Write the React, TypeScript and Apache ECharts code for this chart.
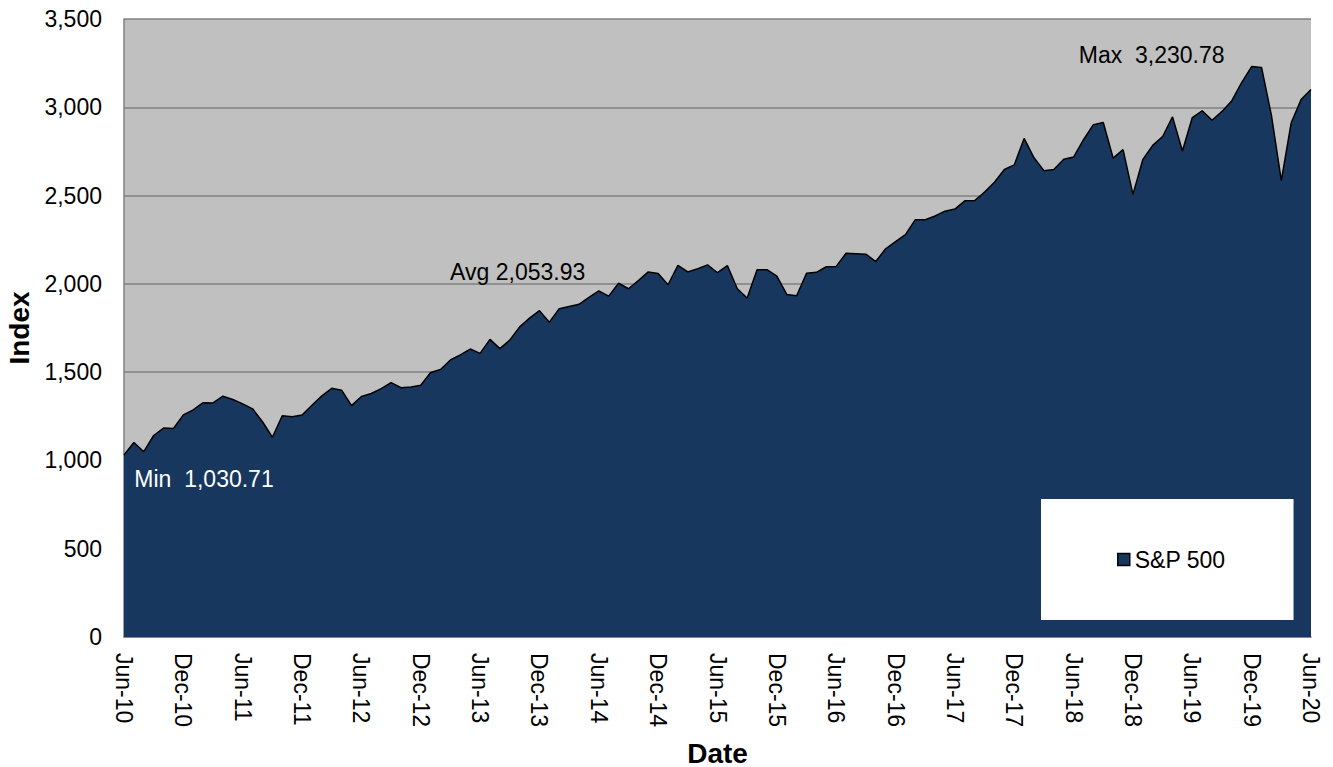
import React, { useEffect, useRef } from 'react';
import * as echarts from 'echarts';

// S&P 500 month-end closes, Jun-10 .. Jun-20
const values2010 = [1030.71, 1101.6, 1049.33, 1141.2, 1183.26, 1180.55, 1257.64];
const values2011 = [1286.12, 1327.22, 1325.83, 1363.61, 1345.2, 1320.64, 1292.28, 1218.89, 1131.42, 1253.3, 1246.96, 1257.6];
const values2012 = [1312.41, 1365.68, 1408.47, 1397.91, 1310.33, 1362.16, 1379.32, 1406.58, 1440.67, 1412.16, 1416.18, 1426.19];
const values2013 = [1498.11, 1514.68, 1569.19, 1597.57, 1630.74, 1606.28, 1685.73, 1632.97, 1681.55, 1756.54, 1805.81, 1848.36];
const values2014 = [1782.59, 1859.45, 1872.34, 1883.95, 1923.57, 1960.23, 1930.67, 2003.37, 1972.29, 2018.05, 2067.56, 2058.9];
const values2015 = [1994.99, 2104.5, 2067.89, 2085.51, 2107.39, 2063.11, 2103.84, 1972.18, 1920.03, 2079.36, 2080.41, 2043.94];
const values2016 = [1940.24, 1932.23, 2059.74, 2065.3, 2096.95, 2098.86, 2173.6, 2170.95, 2168.27, 2126.15, 2198.81, 2238.83];
const values2017 = [2278.87, 2363.64, 2362.72, 2384.2, 2411.8, 2423.41, 2470.3, 2471.65, 2519.36, 2575.26, 2647.58, 2673.61];
const values2018 = [2823.81, 2713.83, 2640.87, 2648.05, 2705.27, 2718.37, 2816.29, 2901.52, 2913.98, 2711.74, 2760.17, 2506.85];
const values2019 = [2704.1, 2784.49, 2834.4, 2945.83, 2752.06, 2941.76, 2980.38, 2926.46, 2976.74, 3037.56, 3140.98, 3230.78];
const values2020 = [3225.52, 2954.22, 2584.59, 2912.43, 3044.31, 3100.29];

const spValues = [
  ...values2010, ...values2011, ...values2012, ...values2013, ...values2014, ...values2015,
  ...values2016, ...values2017, ...values2018, ...values2019, ...values2020,
];

const monthNames = ['Jan', 'Feb', 'Mar', 'Apr', 'May', 'Jun', 'Jul', 'Aug', 'Sep', 'Oct', 'Nov', 'Dec'];
const dates: string[] = [];
for (let i = 0; i < spValues.length; i++) {
  const m = (5 + i) % 12;
  const y = 10 + Math.floor((5 + i) / 12);
  dates.push(`${monthNames[m]}-${y}`);
}

const yTicks = [0, 500, 1000, 1500, 2000, 2500, 3000, 3500];

const minValue = 1030.71;
const avgValue = 2053.93;
const maxValue = 3230.78;

const FONT = "'Liberation Sans', Arial, sans-serif";
const FS = 23;

const App: React.FC = () => {
  const chartRef = useRef<HTMLDivElement>(null);

  useEffect(() => {
    if (!chartRef.current) return;
    const chart = echarts.init(chartRef.current, undefined, { renderer: 'svg' });

    const option = {
      animation: false,
      textStyle: { fontFamily: FONT },
      grid: {
        left: 124,
        top: 19,
        right: 22,
        bottom: 130,
        containLabel: false,
        outerBoundsMode: 'none',
        show: true,
        backgroundColor: '#c0c0c0',
        borderWidth: 0,
      },
      legend: {
        data: ['S&P 500'],
        left: 1041,
        top: 499,
        padding: [49, 68, 49, 76],
        backgroundColor: '#ffffff',
        itemWidth: 12,
        itemHeight: 12,
        icon: 'rect',
        itemStyle: { borderColor: '#000000', borderWidth: 1.5 },
        textStyle: { fontSize: FS, color: '#000000', fontFamily: FONT },
      },
      xAxis: {
        type: 'category',
        data: dates,
        boundaryGap: false,
        name: 'Date',
        nameLocation: 'middle',
        nameGap: 102,
        nameTextStyle: { fontSize: 28, fontWeight: 'bold', color: '#000000', fontFamily: FONT },
        axisLine: { lineStyle: { color: '#808080', width: 1.5 } },
        axisTick: { show: false },
        axisLabel: {
          interval: 5,
          rotate: -90,
          margin: 16,
          fontSize: FS,
          color: '#000000',
          fontFamily: FONT,
        },
        splitLine: { show: false },
      },
      yAxis: {
        type: 'value',
        min: yTicks[0],
        max: yTicks[yTicks.length - 1],
        interval: 500,
        name: 'Index',
        nameLocation: 'middle',
        nameGap: 91,
        nameTextStyle: { fontSize: 28, fontWeight: 'bold', color: '#000000', fontFamily: FONT },
        axisLine: { show: true, lineStyle: { color: '#808080', width: 1.5 } },
        axisTick: { show: false },
        axisLabel: {
          margin: 22,
          fontSize: FS,
          color: '#000000',
          fontFamily: FONT,
          formatter: (v: number) => v.toLocaleString('en-US'),
        },
        splitLine: { lineStyle: { color: '#808080', width: 1.5 } },
      },
      series: [
        {
          name: 'S&P 500',
          type: 'line',
          data: spValues,
          symbol: 'none',
          lineStyle: { color: '#000000', width: 1.5 },
          itemStyle: { color: '#18375e' },
          areaStyle: { color: '#18375e', opacity: 1 },
          markPoint: {
            symbol: 'circle',
            symbolSize: 0,
            itemStyle: { color: 'transparent' },
            data: [
              {
                coord: [dates[0], minValue],
                label: {
                  show: true,
                  position: 'inside',
                  offset: [80, 24],
                  formatter: 'Min  1,030.71',
                  color: '#ffffff',
                  fontSize: FS,
                  fontFamily: FONT,
                },
              },
              {
                coord: [dates[40], avgValue],
                label: {
                  show: true,
                  position: 'inside',
                  offset: [-2, -2],
                  formatter: 'Avg 2,053.93',
                  color: '#000000',
                  fontSize: FS,
                  fontFamily: FONT,
                },
              },
              {
                coord: [dates[114], maxValue],
                label: {
                  show: true,
                  position: 'inside',
                  offset: [-100, -12],
                  formatter: 'Max  3,230.78',
                  color: '#000000',
                  fontSize: FS,
                  fontFamily: FONT,
                },
              },
            ],
          },
        },
      ],
    };

    chart.setOption(option);

    const handleResize = () => chart.resize();
    window.addEventListener('resize', handleResize);
    return () => {
      window.removeEventListener('resize', handleResize);
      chart.dispose();
    };
  }, []);

  return (
    <div
      ref={chartRef}
      style={{ position: 'fixed', left: 0, top: 0, width: 1333, height: 767, background: '#ffffff' }}
    />
  );
};

export default App;
